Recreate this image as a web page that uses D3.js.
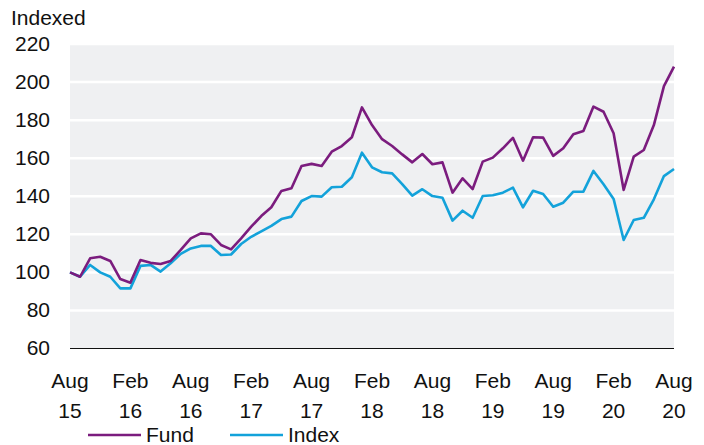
<!DOCTYPE html>
<html>
<head>
<meta charset="utf-8">
<script src="https://cdn.jsdelivr.net/npm/d3@7"></script>
<style>
  body { margin: 0; background: #fff; }
  svg { font-family: "Liberation Sans", Arial, sans-serif; }
</style>
</head>
<body>
<div id="chart"></div>
<script>
// monthly values, Aug 2015 .. Aug 2020
const fund = [100, 97.7, 107.4, 108.2, 106, 96.5, 94.6, 106.5, 105, 104.4, 106, 111.8,
  117.9, 120.5, 120, 114.4, 112.1, 117.9, 124, 129.6, 134.2, 142.8, 144.2, 155.9,
  157, 155.9, 163.4, 166.4, 171, 186.7, 177.4, 170, 166.4, 162, 157.8, 162.2,
  156.8, 157.8, 141.9, 149.4, 143.8, 158.2, 160.3, 165.2, 170.7, 158.7, 171, 170.8,
  161.2, 165.2, 172.6, 174.3, 187.1, 184.4, 173.1, 143.3, 160.8, 164.3, 177.4, 197.9, 208.1];
const index = [100, 97.7, 103.9, 100, 97.7, 91.6, 91.6, 103.4, 103.9, 100.4, 104.8, 109.7,
  112.6, 113.9, 113.9, 109.1, 109.4, 114.9, 118.7, 121.6, 124.4, 128, 129.3, 137.5,
  140.1, 139.8, 144.7, 145, 150, 162.9, 155.2, 152.6, 152, 146.4, 140.3, 143.7,
  140.1, 139.2, 127.2, 132.4, 128.7, 140.1, 140.5, 141.9, 144.5, 134.2, 142.9, 141.2,
  134.5, 136.6, 142.4, 142.4, 153.3, 146.3, 138.6, 117, 127.5, 128.7, 138.4, 150.6, 154.3];
const tickMonths = [0, 6, 12, 18, 24, 30, 36, 42, 48, 54, 60];
const tickTop = ["Aug", "Feb", "Aug", "Feb", "Aug", "Feb", "Aug", "Feb", "Aug", "Feb", "Aug"];
const tickBottom = ["15", "16", "16", "17", "17", "18", "18", "19", "19", "20", "20"];
const yTicks = [60, 80, 100, 120, 140, 160, 180, 200, 220];

const width = 704, height = 445;
const margin = {top: 44, right: 30, bottom: 96.5, left: 70};
const innerW = width - margin.left - margin.right,
innerH = height - margin.top - margin.bottom;

const fundColor = "#7b1c7e", indexColor = "#13a2da";
const fs = 21;

const svg = d3.select("#chart")
.append("svg")
.attr("width", width)
.attr("height", height);

const g = svg.append("g")
.attr("transform", `translate(${margin.left},${margin.top})`);

const x = d3.scaleLinear().domain([0, 60]).range([0, innerW]);
const y = d3.scaleLinear().domain([60, 220]).range([innerH, 0]);

// grey plot background
g.append("rect")
.attr("width", innerW)
.attr("height", innerH)
.attr("fill", "#eff0f2");

// white gridlines
g.selectAll(".grid")
.data(yTicks.filter(d => d > 60))
.join("line")
.attr("x1", 0)
.attr("x2", innerW)
.attr("y1", d => y(d))
.attr("y2", d => y(d))
.attr("stroke", "#fff")
.attr("stroke-width", 2.5);

// y labels
g.selectAll(".ylab")
.data(yTicks)
.join("text")
.attr("x", -20)
.attr("y", d => y(d))
.attr("dy", "0.33em")
.attr("text-anchor", "end")
.attr("font-size", fs)
.attr("fill", "#111")
.text(d => d);

svg.append("text")
.attr("x", 11)
.attr("y", 25)
.attr("font-size", fs)
.attr("fill", "#111")
.text("Indexed");

// baseline
g.append("line")
.attr("x1", 0)
.attr("x2", innerW)
.attr("y1", innerH)
.attr("y2", innerH)
.attr("stroke", "#111")
.attr("stroke-width", 1.2);

// x labels, two lines
const xl = g.selectAll(".xlab")
.data(tickMonths)
.join("text")
.attr("text-anchor", "middle")
.attr("font-size", fs)
.attr("fill", "#111")
.attr("transform", d => `translate(${x(d)},${innerH + 39.5})`);
xl.append("tspan").attr("x", 0).attr("y", 0).text((d, i) => tickTop[i]);
xl.append("tspan").attr("x", 0).attr("y", 29.5).text((d, i) => tickBottom[i]);

const line = d3.line()
.x((d, i) => x(i))
.y(d => y(d));

g.append("path")
.datum(index)
.attr("fill", "none")
.attr("stroke", indexColor)
.attr("stroke-width", 2.6)
.attr("stroke-linejoin", "round")
.attr("d", line);

g.append("path")
.datum(fund)
.attr("fill", "none")
.attr("stroke", fundColor)
.attr("stroke-width", 2.6)
.attr("stroke-linejoin", "round")
.attr("d", line);

// legend
const legend = svg.append("g")
.selectAll("g")
.data([{name: "Fund", color: fundColor, x: 88}, {name: "Index", color: indexColor, x: 230}])
.join("g")
.attr("transform", d => `translate(${d.x},435)`);

legend.append("line")
.attr("x1", 0)
.attr("x2", 53)
.attr("stroke", d => d.color)
.attr("stroke-width", 2.6);

legend.append("text")
.attr("x", 58)
.attr("y", 7)
.attr("font-size", fs)
.attr("fill", "#111")
.text(d => d.name);
</script>
</body>
</html>
